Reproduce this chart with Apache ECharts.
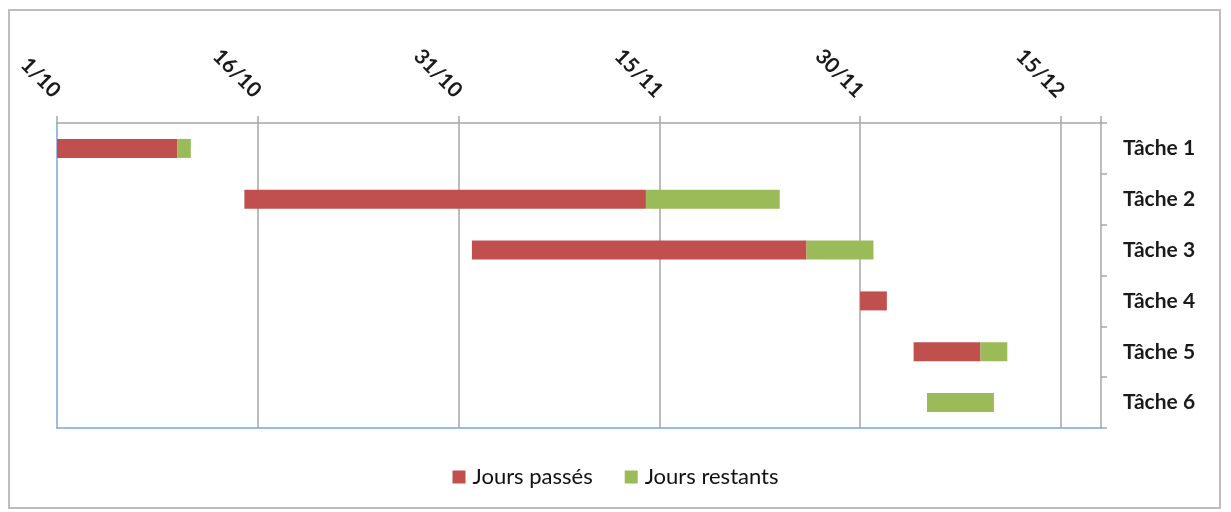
<!DOCTYPE html>
<html>
<head>
<meta charset="utf-8">
<style>
  html, body { margin: 0; padding: 0; background: #ffffff; }
  #chart { width: 1231px; height: 512px; }
</style>
<script src="https://cdn.jsdelivr.net/npm/echarts@6/dist/echarts.min.js"></script>
</head>
<body>
<div id="chart"></div>
<script>
// Planning des tâches : jours comptés depuis le 1/10
const tasks = ['Tâche 1', 'Tâche 2', 'Tâche 3', 'Tâche 4', 'Tâche 5', 'Tâche 6'];
const startDay = [0, 14, 31, 60, 64, 65];
const joursPasses = [9, 30, 25, 2, 5, 0];
const joursRestants = [1, 10, 5, 0, 2, 5];
const tickLabels = ['1/10', '16/10', '31/10', '15/11', '30/11', '15/12'];
const tickStep = 15;
const axisMaxDay = 78;

const RED = '#C0504D';
const GREEN = '#9BBB59';
const GRID_GRAY = '#a6a6a6';
const BLUE = '#7ea6d9';
const FONT = 'Lato, "Open Sans", sans-serif';

const chart = echarts.init(document.getElementById('chart'), null, { renderer: 'canvas' });

chart.setOption({
  backgroundColor: '#ffffff',
  animation: false,
  graphic: [{
    type: 'rect',
    silent: true,
    z: -10,
    shape: { x: 9, y: 10, width: 1211, height: 498 },
    style: { fill: 'none', stroke: '#bdbdbd', lineWidth: 2 }
  }],
  grid: { left: 57, right: 130, top: 123, bottom: 84 },
  legend: {
    bottom: 19,
    left: 'center',
    itemWidth: 13,
    itemHeight: 13,
    itemGap: 32,
    icon: 'rect',
    data: ['Jours passés', 'Jours restants'],
    textStyle: { fontFamily: FONT, fontSize: 22, color: '#111111', padding: [0, 0, 0, 2] }
  },
  xAxis: [{
    type: 'value',
    position: 'top',
    min: 0,
    max: axisMaxDay,
    interval: tickStep,
    axisLine: { show: true, lineStyle: { color: GRID_GRAY, width: 1.5 } },
    axisTick: { show: true, inside: false, length: 7, lineStyle: { color: GRID_GRAY, width: 1.5 } },
    splitLine: { show: true, showMinLine: false, showMaxLine: false, lineStyle: { color: GRID_GRAY, width: 1.5 } },
    axisLabel: {
      rotate: 45,
      margin: 29,
      fontFamily: FONT,
      fontSize: 21,
      fontWeight: 'bold',
      color: '#1a1a1a',
      formatter: function (v) {
        const i = Math.round(v / tickStep);
        return (v % tickStep === 0 && i < tickLabels.length) ? tickLabels[i] : '';
      }
    }
  }, {
    type: 'value',
    position: 'bottom',
    min: 0,
    max: axisMaxDay,
    axisLine: { show: true, lineStyle: { color: BLUE, width: 1.5 } },
    axisTick: { show: false },
    axisLabel: { show: false },
    splitLine: { show: false }
  }],
  yAxis: [{
    type: 'category',
    position: 'right',
    inverse: true,
    data: tasks,
    axisLine: { show: true, onZero: false, lineStyle: { color: GRID_GRAY, width: 1.5 } },
    axisTick: { show: true, inside: false, length: 6, lineStyle: { color: GRID_GRAY, width: 1.5 } },
    axisLabel: {
      margin: 22,
      fontFamily: FONT,
      fontSize: 21,
      fontWeight: 'bold',
      color: '#1a1a1a'
    }
  }, {
    type: 'category',
    position: 'left',
    inverse: true,
    data: tasks,
    axisLine: { show: true, onZero: false, lineStyle: { color: BLUE, width: 1.5 } },
    axisTick: { show: false },
    axisLabel: { show: false }
  }],
  series: [{
    name: 'Début',
    type: 'bar',
    stack: 'gantt',
    xAxisIndex: 0,
    yAxisIndex: 0,
    barWidth: 19,
    silent: true,
    itemStyle: { color: 'transparent' },
    data: startDay
  }, {
    name: 'Jours passés',
    type: 'bar',
    stack: 'gantt',
    xAxisIndex: 0,
    yAxisIndex: 0,
    barWidth: 19,
    itemStyle: { color: RED },
    data: joursPasses
  }, {
    name: 'Jours restants',
    type: 'bar',
    stack: 'gantt',
    xAxisIndex: 0,
    yAxisIndex: 0,
    barWidth: 19,
    itemStyle: { color: GREEN },
    data: joursRestants
  }]
});
</script>
</body>
</html>
